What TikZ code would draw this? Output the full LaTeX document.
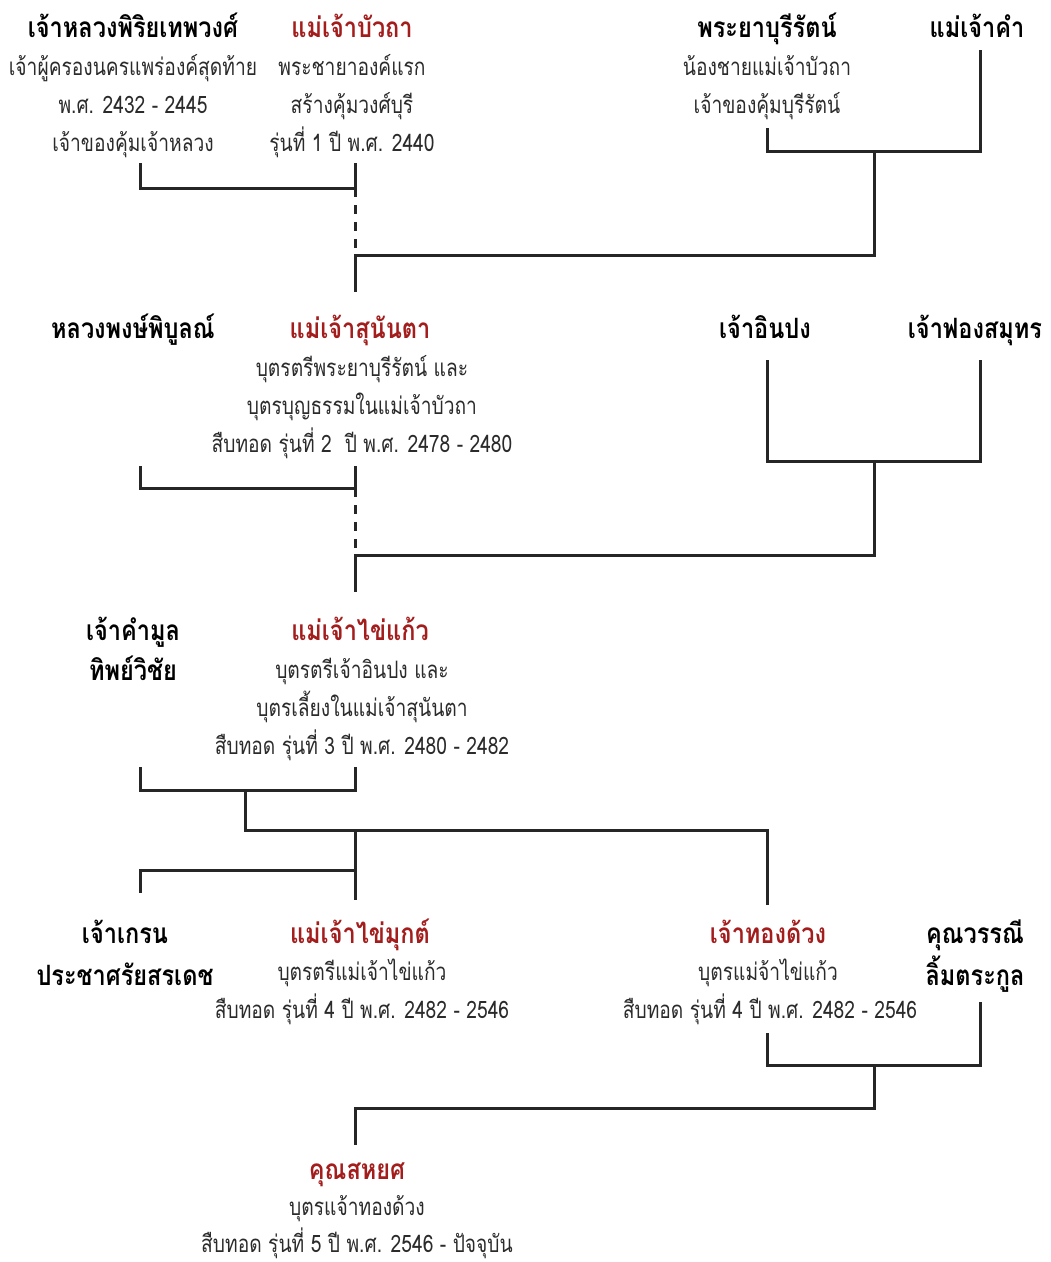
\documentclass[tikz,border=0pt]{standalone}
\usepackage{fontspec}
\setmainfont[Script=Thai]{Loma}
\newfontfamily\descfont[Script=Thai,FakeStretch=0.8]{Loma}
\newfontfamily\namefont[Script=Thai,FakeStretch=0.84]{Loma}
\definecolor{royal}{HTML}{A31D1D}
\definecolor{txt}{HTML}{2B2B2B}
\begin{document}
\begin{tikzpicture}[x=1pt,y=-1pt,
  pname/.style={font=\namefont\fontsize{28}{32}\selectfont\bfseries, text=black, inner sep=0pt, anchor=base, yshift=-10pt},
  rname/.style={pname, text=royal},
  desc/.style={font=\descfont\fontsize{24}{28}\selectfont, text=txt, inner sep=0pt, anchor=base, yshift=-8pt},
  link/.style={line width=3pt, draw=black!85, line cap=butt, line join=miter},
  dlink/.style={link, dash pattern=on 9pt off 8pt}]
\useasboundingbox (0,0) rectangle (1051,1262);
% row 1
\node[pname] (n11) at (133,27) {เจ้าหลวงพิริยเทพวงศ์};
\node[desc] (d11a) at (133,67) {เจ้าผู้ครองนครแพร่องค์สุดท้าย};
\node[desc] (d11b) at (133,105) {พ.ศ. 2432 - 2445};
\node[desc] (d11c) at (133,143) {เจ้าของคุ้มเจ้าหลวง};
\node[rname] (n12) at (352,27) {แม่เจ้าบัวถา};
\node[desc] (d12a) at (352,67) {พระชายาองค์แรก};
\node[desc] (d12b) at (352,105) {สร้างคุ้มวงศ์บุรี};
\node[desc] (d12c) at (352,143) {รุ่นที่ 1 ปี พ.ศ. 2440};
\node[pname] (n13) at (767,27) {พระยาบุรีรัตน์};
\node[desc] (d13a) at (767,67) {น้องชายแม่เจ้าบัวถา};
\node[desc] (d13b) at (767,105) {เจ้าของคุ้มบุรีรัตน์};
\node[pname] (n14) at (977,27) {แม่เจ้าคำ};
\coordinate (a1) at (140,163); \coordinate (b1) at (355,163);
\coordinate (m1) at (355,188); \coordinate (j1) at (355,255);
\coordinate (e1) at (767,128); \coordinate (f1) at (980,50);
\coordinate (s1) at (874,151); \coordinate (t1) at (355,292);
\draw[link] (a1) |- (m1) -- (b1);
\draw[dlink] (m1) -- (j1);
\draw[link] (e1) |- (s1) -| (f1);
\draw[link] (s1) |- (j1) -- (t1);
% row 2
\node[pname] (n21) at (133,328) {หลวงพงษ์พิบูลณ์};
\node[rname] (n22) at (360,328) {แม่เจ้าสุนันตา};
\node[desc] (d22a) at (362,368) {บุตรตรีพระยาบุรีรัตน์ และ};
\node[desc] (d22b) at (362,406) {บุตรบุญธรรมในแม่เจ้าบัวถา};
\node[desc] (d22c) at (362,444) {สืบทอด รุ่นที่ 2\ \ ปี พ.ศ. 2478 - 2480};
\node[pname] (n23) at (765,328) {เจ้าอินปง};
\node[pname] (n24) at (975,328) {เจ้าฟองสมุทร};
\coordinate (a2) at (140,466); \coordinate (b2) at (355,466);
\coordinate (m2) at (355,488); \coordinate (j2) at (355,555);
\coordinate (e2) at (767,360); \coordinate (f2) at (980,360);
\coordinate (s2) at (874,461); \coordinate (t2) at (355,592);
\draw[link] (a2) |- (m2) -- (b2);
\draw[dlink] (m2) -- (j2);
\draw[link] (e2) |- (s2) -| (f2);
\draw[link] (s2) |- (j2) -- (t2);
% row 3
\node[pname] (n31) at (133,630) {เจ้าคำมูล};
\node[pname] (n31b) at (133,670) {ทิพย์วิชัย};
\node[rname] (n32) at (360,630) {แม่เจ้าไข่แก้ว};
\node[desc] (d32a) at (362,670) {บุตรตรีเจ้าอินปง และ};
\node[desc] (d32b) at (362,708) {บุตรเลี้ยงในแม่เจ้าสุนันตา};
\node[desc] (d32c) at (362,746) {สืบทอด รุ่นที่ 3 ปี พ.ศ. 2480 - 2482};
\coordinate (a3) at (140,767); \coordinate (b3) at (355,767);
\coordinate (m3) at (245,790); \coordinate (k3) at (245,830);
\coordinate (u3) at (355,830); \coordinate (v3) at (355,870);
\coordinate (w3) at (355,900); \coordinate (x3) at (140,893);
\coordinate (y3) at (767,905);
\draw[link] (a3) |- (m3) -| (b3);
\draw[link] (m3) -- (k3) -| (y3);
\draw[link] (u3) -- (w3);
\draw[link] (v3) -| (x3);
% row 4
\node[pname] (n41) at (125,933) {เจ้าเกรน};
\node[pname] (n41b) at (125,975) {ประชาศรัยสรเดช};
\node[rname] (n42) at (360,933) {แม่เจ้าไข่มุกต์};
\node[desc] (d42a) at (362,972) {บุตรตรีแม่เจ้าไข่แก้ว};
\node[desc] (d42b) at (362,1010) {สืบทอด รุ่นที่ 4 ปี พ.ศ. 2482 - 2546};
\node[rname] (n43) at (768,933) {เจ้าทองด้วง};
\node[desc] (d43a) at (768,972) {บุตรแม่จ้าไข่แก้ว};
\node[desc] (d43b) at (770,1010) {สืบทอด รุ่นที่ 4 ปี พ.ศ. 2482 - 2546};
\node[pname] (n44) at (975,933) {คุณวรรณี};
\node[pname] (n44b) at (975,975) {ลิ้มตระกูล};
\coordinate (e4) at (767,1033); \coordinate (f4) at (980,1002);
\coordinate (s4) at (874,1065); \coordinate (j4) at (355,1108);
\coordinate (t4) at (355,1145);
\draw[link] (e4) |- (s4) -| (f4);
\draw[link] (s4) |- (j4) -- (t4);
% row 5
\node[rname] (n5) at (357,1169) {คุณสหยศ};
\node[desc] (d5a) at (357,1207) {บุตรแจ้าทองด้วง};
\node[desc] (d5b) at (357,1244) {สืบทอด รุ่นที่ 5 ปี พ.ศ. 2546 - ปัจจุบัน};
\end{tikzpicture}
\end{document}
